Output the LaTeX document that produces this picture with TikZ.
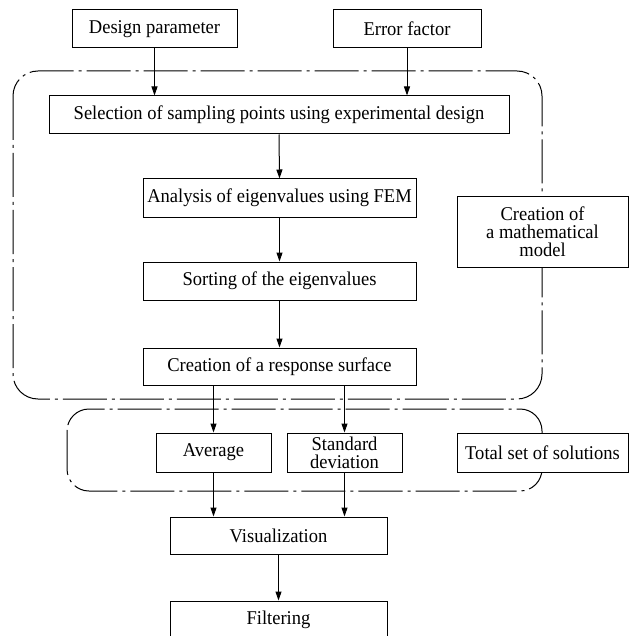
\documentclass[tikz,border=0pt]{standalone}
\usepackage{fontspec}
\setmainfont{Liberation Serif}[FakeStretch=0.95]
\usetikzlibrary{arrows.meta}
\begin{document}
\begin{tikzpicture}[x=1pt,y=-1pt,
  box/.style={draw, line width=1pt, fill=white, inner sep=0pt, align=center,
    font=\fontsize{19.5}{18}\selectfont},
  group/.style={draw, line width=1pt, dash pattern=on 44pt off 5pt on 3pt off 5pt},
  arr/.style={-{Triangle[length=9pt,width=6pt]}, line width=1pt}]
\clip (0,0) rectangle (629,636);
\fill[white] (0,0) rectangle (629,636);
\draw[group, rounded corners=25pt] (13,71) rectangle (542,399);
\draw[group, rounded corners=22pt] (67,409) rectangle (542,491);
\node[box, minimum width=165pt, minimum height=38pt] (design) at (154.5,29) {Design parameter};
\node[box, minimum width=148pt, minimum height=38pt] (error) at (407,29) {Error factor};
\node[box, minimum width=460pt, minimum height=38pt] (sel) at (279,115) {Selection of sampling points using experimental design};
\node[box, minimum width=273pt, minimum height=38pt] (ana) at (279.5,198) {Analysis of eigenvalues using FEM};
\node[box, minimum width=273pt, minimum height=38pt] (sort) at (279.5,281) {Sorting of the eigenvalues};
\node[box, minimum width=273pt, minimum height=37pt] (resp) at (279.5,366.5) {Creation of a response surface};
\node[box, minimum width=171pt, minimum height=70pt] (math) at (542.5,232) {Creation of\\a mathematical\\model};
\node[box, minimum width=115pt, minimum height=39pt] (avg) at (213.5,452.5) {Average};
\node[box, minimum width=115pt, minimum height=39pt] (std) at (344.5,452.5) {Standard\\deviation};
\node[box, minimum width=171pt, minimum height=39pt] (total) at (542.5,452.5) {Total set of solutions};
\node[box, minimum width=217pt, minimum height=37pt] (vis) at (278.5,535.5) {Visualization};
\node[box, minimum width=217pt, minimum height=38pt] (filt) at (278.5,620) {Filtering};
\draw[arr] (design.south) -- (design.south |- sel.north);
\draw[arr] (error.south) -- (error.south |- sel.north);
\draw[arr] (sel.south) -- (ana.north);
\draw[arr] (ana.south) -- (sort.north);
\draw[arr] (sort.south) -- (resp.north);
\draw[arr] (avg.north |- resp.south) -- (avg.north);
\draw[arr] (std.north |- resp.south) -- (std.north);
\draw[arr] (avg.south) -- (avg.south |- vis.north);
\draw[arr] (std.south) -- (std.south |- vis.north);
\draw[arr] (vis.south) -- (filt.north);
\end{tikzpicture}
\end{document}
